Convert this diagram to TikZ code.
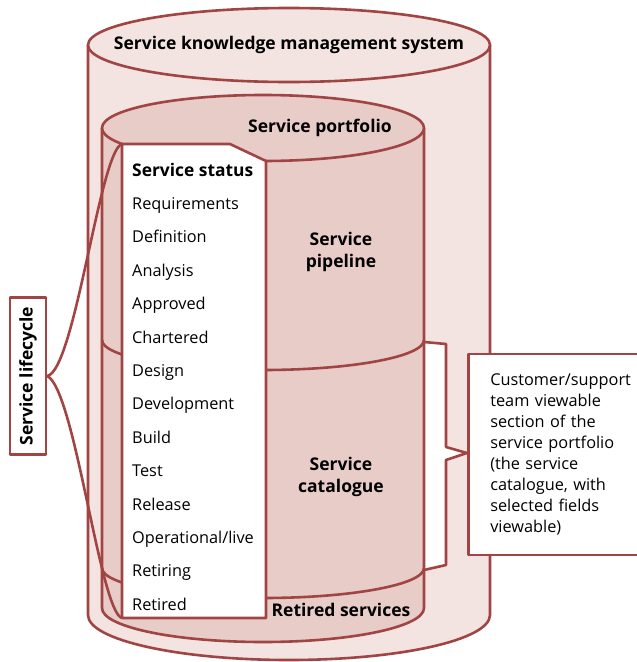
\documentclass[tikz,border=0pt]{standalone}
\usepackage{fontspec}
\setmainfont{Open Sans}
\definecolor{skred}{RGB}{160,68,68}
\definecolor{skouter}{RGB}{243,228,226}
\definecolor{skinner}{RGB}{232,204,200}
\tikzset{
  rim/.style={draw=skred,line width=2.6pt},
  stat/.style={anchor=base west,inner sep=0pt,font=\fontsize{16.3}{18}\selectfont},
  head/.style={align=center,inner sep=0pt,font=\bfseries\fontsize{17.5}{22}\selectfont},
}
\begin{document}
\begin{tikzpicture}[x=1pt,y=1pt,line join=round]
  \useasboundingbox (0,0) rectangle (637,-662);
  % outer cylinder
  \filldraw[rim,fill=skouter] (88,-45) -- (88,-615)
    arc[start angle=180,end angle=360,x radius=201,y radius=45] -- (490,-45);
  \filldraw[rim,fill=skouter] (289,-45) ellipse[x radius=201,y radius=37];
  % brace towards the catalogue note
  \filldraw[rim,fill=white] (424,-342) -- (446,-344) -- (446,-447) -- (467,-453)
    -- (446,-460) -- (446,-565) -- (424,-570);
  % inner cylinder
  \filldraw[rim,fill=skinner] (102,-128) -- (102,-608)
    arc[start angle=180,end angle=360,x radius=161,y radius=34] -- (424,-128);
  \filldraw[rim,fill=skinner] (263,-128) ellipse[x radius=161,y radius=33];
  \draw[rim] (102,-340) arc[start angle=180,end angle=360,x radius=161,y radius=30];
  \draw[rim] (102,-568) arc[start angle=180,end angle=360,x radius=161,y radius=30];
  % status list
  \coordinate (stl) at (122,-144);
  \coordinate (sbl) at (122,-618);
  \filldraw[rim,fill=white] (stl) -- (230,-144) -- (266,-161) -- (266,-618) -- (sbl) -- cycle;
  \node[stat,font=\bfseries\fontsize{17.4}{18}\selectfont] (stitle) at (132,-176) {Service status};
  \foreach \s [count=\i] in {Requirements,Definition,Analysis,Approved,Chartered,Design,
      Development,Build,Test,Release,Operational/live,Retiring,Retired}
    \node[stat] (s\i) at (132,-176-33.4*\i) {\s};
  % labels
  \node[head] (skms) at (289,-45) {Service knowledge management system};
  \node[head] (port) at (320,-128) {Service portfolio};
  \node[head] (pipe) at (341,-252) {Service\\pipeline};
  \node[head] (cata) at (341,-477) {Service\\catalogue};
  \node[head] (ret) at (341,-610) {Retired services};
  % note
  \node[rim,fill=white,anchor=west,minimum height=201,text width=155,inner xsep=22,
    align=left,font=\fontsize{16.3}{21}\selectfont] (view) at (467,-454.5)
    {Customer/support\\team viewable\\section of the\\service portfolio\\(the service\\catalogue, with\\selected fields\\viewable)};
  % lifecycle
  \node[rim,fill=white,rotate=90,minimum width=157,minimum height=36,inner sep=0pt,
    font=\bfseries\fontsize{17.5}{18}\selectfont] (life) at (28,-376) {Service lifecycle};
  \draw[rim] (life.south) .. controls (75,-370) and (100,-150) .. (stl);
  \draw[rim] (life.south) .. controls (75,-390) and (100,-612) .. (sbl);
\end{tikzpicture}
\end{document}
